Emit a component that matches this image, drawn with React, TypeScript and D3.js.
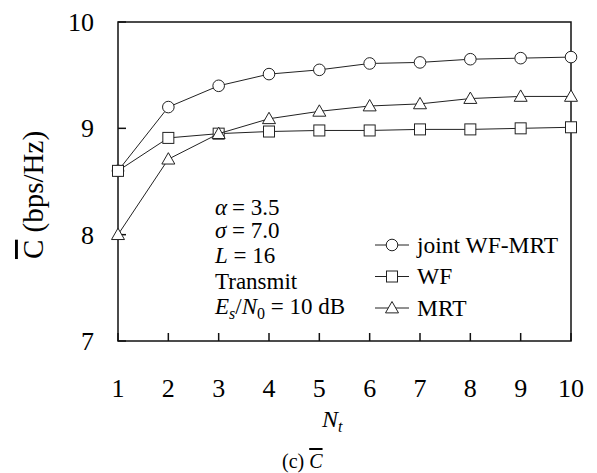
import * as d3 from 'd3';

// N_t values on x axis
const nt = [1, 2, 3, 4, 5, 6, 7, 8, 9, 10];
const jointWfMrt = [8.6, 9.2, 9.4, 9.51, 9.55, 9.61, 9.62, 9.65, 9.66, 9.67];
const wf = [8.6, 8.91, 8.95, 8.97, 8.98, 8.98, 8.99, 8.99, 9.0, 9.01];
const mrt = [8.0, 8.71, 8.95, 9.09, 9.16, 9.21, 9.23, 9.28, 9.3, 9.3];
const yTicks = [7, 8, 9, 10];
const seriesNames = ['joint WF-MRT', 'WF', 'MRT'];

const font = '"Liberation Serif", serif';

function Marker({ kind, x, y }: { kind: string; x: number; y: number }) {
    if (kind === 'circle') return <circle cx={x} cy={y} r={5.8} fill="white" stroke="#222" strokeWidth={1} />;
    if (kind === 'square') return <rect x={x - 5.5} y={y - 5.5} width={11} height={11} fill="white" stroke="#222" strokeWidth={1} />;
    const s = 6.5;
    return <path d={`M${x},${y - s}L${x + s},${y + s * 0.75}L${x - s},${y + s * 0.75}Z`} fill="white" stroke="#222" strokeWidth={1} />;
}

export default function App() {
    const width = 597;
    const height = 473;
    const margin = { top: 22, right: 26, bottom: 132, left: 118 };

    const x = d3.scaleLinear().domain([1, 10]).range([margin.left, width - margin.right]);
    const y = d3.scaleLinear().domain([7, 10]).range([height - margin.bottom, margin.top]);
    const line = d3.line<number>().x((_, i) => x(nt[i])).y(d => y(d));

    const series = [
        { values: jointWfMrt, kind: 'circle' },
        { values: wf, kind: 'square' },
        { values: mrt, kind: 'triangle' },
    ];

    const x0 = x(1), x1 = x(10), y0 = y(7), y1 = y(10);

    return (
        <svg width={width} height={height} style={{ position: 'absolute', left: 0, top: 0, background: 'white', fontFamily: font }}>
            <rect x={x0} y={y1} width={x1 - x0} height={y0 - y1} fill="none" stroke="#111" strokeWidth={1.5} />
            {yTicks.map(t => (
                <g key={t}>
                    <line x1={x0} x2={x0 + 8} y1={y(t)} y2={y(t)} stroke="#111" strokeWidth={1.5} />
                    <text x={94} y={y(t)} dy="0.35em" textAnchor="end" fontSize={26}>{t}</text>
                </g>
            ))}
            {nt.map(t => (
                <g key={t}>
                    <line x1={x(t)} x2={x(t)} y1={y0} y2={y0 - 8} stroke="#111" strokeWidth={1.5} />
                    <text x={x(t)} y={397} textAnchor="middle" fontSize={26}>{t}</text>
                </g>
            ))}
            {series.map((s, i) => (
                <g key={i}>
                    <path d={line(s.values) || ''} fill="none" stroke="#222" strokeWidth={1} />
                    {s.values.map((v, j) => <Marker key={j} kind={s.kind} x={x(nt[j])} y={y(v)} />)}
                </g>
            ))}
            {/* parameter notes */}
            <g fontSize={23}>
                <text x={215} y={215}><tspan fontStyle="italic">α</tspan><tspan x={232}>= 3.5</tspan></text>
                <text x={215} y={238}><tspan fontStyle="italic">σ</tspan><tspan x={232}>= 7.0</tspan></text>
                <text x={215} y={263}><tspan fontStyle="italic">L</tspan><tspan> = 16</tspan></text>
                <text x={215} y={289}>Transmit</text>
                <text x={215} y={314}>
                    <tspan fontStyle="italic">E</tspan><tspan fontStyle="italic" fontSize={16} dy={5}>s</tspan>
                    <tspan dy={-5}>/</tspan><tspan fontStyle="italic">N</tspan><tspan fontSize={16} dy={5}>0</tspan>
                    <tspan dy={-5}>{' = 10 dB'}</tspan>
                </text>
            </g>
            {/* legend */}
            <g fontSize={23.5}>
                {seriesNames.map((name, i) => {
                    const ly = 245 + i * 31.5;
                    return (
                        <g key={name}>
                            <line x1={375} x2={409} y1={ly} y2={ly} stroke="#222" strokeWidth={1} />
                            <Marker kind={series[i].kind} x={392} y={ly} />
                            <text x={417} y={ly} dy="0.33em">{name}</text>
                        </g>
                    );
                })}
            </g>
            {/* axis titles */}
            <text transform="translate(43,195) rotate(-90)" textAnchor="middle" fontSize={29}>
                <tspan style={{ textDecoration: 'overline' }}>C</tspan>
                <tspan> (bps/Hz)</tspan>
            </text>
            <text x={322} y={427} fontSize={24}>
                <tspan fontStyle="italic">N</tspan><tspan fontStyle="italic" fontSize={16} dy={5}>t</tspan>
            </text>
            <text x={282} y={468} fontSize={20}>
                <tspan>(c) </tspan><tspan fontStyle="italic" style={{ textDecoration: 'overline' }}>C</tspan>
            </text>
        </svg>
    );
}
